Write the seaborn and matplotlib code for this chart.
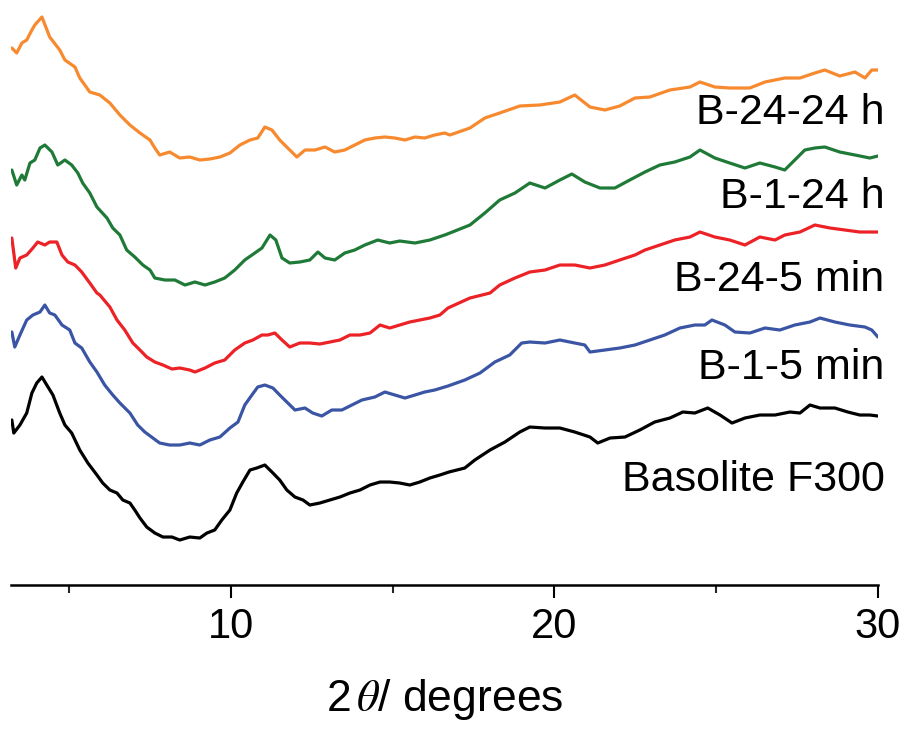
import matplotlib
matplotlib.use("Agg")
import matplotlib.pyplot as plt
import seaborn as sns
import pandas as pd

# ---- data (2theta in degrees, intensity in a.u., stacked for clarity) ----
samples = ["B-24-24 h", "B-1-24 h", "B-24-5 min", "B-1-5 min", "Basolite F300"]
colors = ["#F7892F", "#1F7A38", "#EC2227", "#3B55A5", "#000000"]

x_b2424 = [3.23, 3.38, 3.54, 3.69, 3.85, 3.94, 4.16, 4.40, 4.71, 4.87, 5.18, 5.33, 5.64, 5.95,
           6.26, 6.57, 6.88, 7.19, 7.50, 7.65, 7.80, 8.11, 8.42, 8.73, 9.04, 9.35, 9.66, 9.97,
           10.28, 10.59, 10.83, 11.05, 11.27, 11.51, 11.82, 12.04, 12.29, 12.60, 12.91, 13.21,
           13.52, 13.83, 14.14, 14.45, 14.76, 15.07, 15.38, 15.69, 15.99, 16.30, 16.61, 16.77,
           17.39, 17.85, 18.31, 18.93, 19.55, 20.17, 20.63, 21.10, 21.56, 22.02, 22.49, 22.95,
           23.57, 24.19, 24.50, 24.96, 25.42, 26.04, 26.51, 27.12, 27.59, 28.05, 28.36, 28.82,
           29.29, 29.60, 29.81, 30.00]
y_b2424 = [552, 547, 557, 560, 570, 575, 583, 563, 550, 540, 533, 522, 508, 505,
           497, 485, 475, 467, 460, 452, 445, 448, 442, 443, 440, 441, 443, 447,
           455, 460, 462, 473, 470, 460, 450, 443, 450, 450, 453, 448,
           450, 455, 460, 462, 463, 462, 460, 463, 462, 465, 467, 465,
           472, 482, 487, 494, 495, 498, 505, 493, 490, 494, 502, 503,
           510, 513, 518, 513, 512, 512, 518, 522, 522, 527, 530, 524,
           528, 522, 530, 530]

x_b124 = [3.23, 3.38, 3.54, 3.63, 3.79, 3.94, 4.10, 4.25, 4.47, 4.65, 4.87, 5.08, 5.27, 5.42,
          5.64, 5.86, 6.17, 6.35, 6.57, 6.78, 7.03, 7.28, 7.50, 7.65, 7.96, 8.27, 8.58, 8.89,
          9.20, 9.50, 9.81, 10.12, 10.43, 10.74, 10.96, 11.21, 11.39, 11.58, 11.82, 12.13,
          12.44, 12.69, 12.91, 13.21, 13.52, 13.83, 14.14, 14.54, 14.91, 15.22, 15.69, 16.15,
          16.61, 16.77, 17.39, 17.85, 18.31, 18.78, 19.24, 19.71, 20.17, 20.54, 20.94, 21.41,
          21.87, 22.33, 22.80, 23.26, 23.72, 24.19, 24.50, 24.96, 25.42, 25.89, 26.35, 26.82,
          27.12, 27.43, 27.74, 28.05, 28.36, 28.82, 29.29, 29.75, 30.00]
y_b124 = [430, 415, 425, 420, 437, 440, 452, 455, 448, 435, 440, 435, 427, 417,
          407, 393, 382, 372, 365, 350, 343, 335, 330, 322, 320, 320, 315, 318,
          315, 318, 322, 330, 340, 347, 352, 365, 360, 342, 337, 338,
          340, 348, 342, 340, 347, 350, 355, 360, 357, 359, 357, 360,
          365, 367, 375, 387, 400, 407, 417, 412, 420, 426, 418, 412,
          412, 420, 428, 435, 438, 443, 450, 442, 437, 432, 437, 433,
          430, 440, 450, 452, 453, 448, 445, 442, 444]

x_b245 = [3.23, 3.35, 3.48, 3.69, 3.88, 4.03, 4.25, 4.40, 4.62, 4.78, 4.96, 5.18, 5.39, 5.64,
          5.86, 5.95, 6.26, 6.48, 6.72, 6.97, 7.19, 7.40, 7.65, 7.90, 8.18, 8.42, 8.73, 8.89,
          9.20, 9.50, 9.81, 10.12, 10.43, 10.68, 10.96, 11.14, 11.36, 11.58, 11.82, 12.13,
          12.44, 12.75, 13.06, 13.37, 13.68, 13.99, 14.30, 14.61, 14.91, 15.22, 15.53, 15.84,
          16.15, 16.46, 16.71, 17.39, 18.01, 18.31, 18.78, 19.24, 19.71, 20.17, 20.63, 21.10,
          21.56, 22.02, 22.49, 22.80, 23.26, 23.72, 24.19, 24.50, 24.96, 25.42, 25.89, 26.35,
          26.82, 27.12, 27.59, 28.05, 28.52, 28.98, 29.44, 30.00]
y_b245 = [362, 332, 342, 345, 352, 358, 355, 358, 358, 345, 338, 335, 328, 317,
          307, 305, 293, 280, 270, 257, 250, 243, 238, 235, 231, 232, 230, 228,
          232, 237, 240, 250, 257, 260, 265, 265, 267, 260, 253, 257,
          257, 256, 258, 260, 265, 265, 267, 275, 272, 275, 278, 280,
          282, 285, 292, 302, 307, 315, 322, 328, 330, 335, 335, 332,
          335, 340, 345, 350, 355, 360, 363, 368, 363, 360, 355, 363,
          360, 365, 368, 375, 372, 370, 368, 368]

x_b15 = [3.23, 3.32, 3.48, 3.69, 3.88, 4.10, 4.25, 4.40, 4.56, 4.78, 5.02, 5.18, 5.39, 5.64,
         5.86, 6.10, 6.35, 6.57, 6.88, 7.12, 7.34, 7.59, 7.80, 8.11, 8.42, 8.73, 9.04, 9.35,
         9.66, 9.97, 10.22, 10.43, 10.65, 10.83, 11.05, 11.30, 11.51, 11.73, 11.98, 12.29,
         12.53, 12.81, 13.12, 13.43, 13.74, 14.05, 14.45, 14.76, 15.07, 15.38, 15.69, 15.99,
         16.30, 16.71, 17.23, 17.70, 18.16, 18.62, 18.99, 19.24, 19.71, 20.17, 20.63, 20.94,
         21.10, 21.56, 22.02, 22.49, 22.95, 23.41, 23.88, 24.34, 24.65, 24.87, 25.27, 25.58,
         26.04, 26.51, 26.97, 27.43, 27.90, 28.21, 28.67, 29.13, 29.60, 29.81, 30.00]
y_b15 = [268, 253, 265, 280, 285, 288, 295, 287, 285, 275, 270, 257, 252, 238,
         228, 215, 205, 197, 187, 175, 168, 162, 157, 155, 155, 157, 155, 160,
         163, 172, 178, 195, 205, 213, 215, 212, 205, 198, 190, 192,
         187, 184, 190, 190, 195, 200, 203, 208, 205, 202, 205, 208,
         210, 214, 220, 227, 238, 245, 257, 258, 257, 260, 257, 255,
         248, 250, 252, 255, 260, 265, 272, 275, 275, 280, 275, 268,
         267, 272, 270, 275, 278, 282, 278, 275, 273, 270, 263]

x_f300 = [3.23, 3.29, 3.48, 3.69, 3.85, 4.00, 4.16, 4.31, 4.50, 4.71, 4.87, 5.08, 5.33, 5.58,
          5.86, 6.04, 6.26, 6.48, 6.66, 6.88, 7.03, 7.19, 7.40, 7.65, 7.90, 8.18, 8.42, 8.73,
          9.04, 9.26, 9.50, 9.72, 9.97, 10.18, 10.37, 10.59, 10.80, 11.05, 11.27, 11.51,
          11.73, 11.98, 12.23, 12.44, 12.75, 13.06, 13.37, 13.68, 13.99, 14.30, 14.61, 14.91,
          15.22, 15.53, 15.84, 16.15, 16.46, 16.74, 17.23, 17.54, 18.01, 18.47, 18.93, 19.24,
          19.71, 20.17, 20.63, 21.10, 21.34, 21.72, 22.18, 22.64, 23.10, 23.57, 23.97, 24.34,
          24.74, 25.12, 25.49, 25.89, 26.35, 26.82, 27.28, 27.59, 27.90, 28.21, 28.67, 29.07,
          29.44, 29.75, 30.00]
y_f300 = [180, 167, 175, 187, 207, 217, 223, 215, 205, 187, 175, 167, 150, 137,
          125, 117, 110, 107, 100, 97, 90, 82, 73, 67, 63, 63, 60, 63,
          62, 67, 70, 80, 90, 107, 118, 130, 132, 135, 128, 120,
          110, 103, 100, 95, 97, 100, 103, 107, 110, 115, 118, 118,
          117, 115, 118, 122, 125, 128, 132, 140, 150, 158, 168, 173,
          172, 172, 168, 163, 157, 162, 163, 170, 178, 182, 188, 187,
          192, 185, 177, 182, 185, 185, 188, 187, 195, 192, 192, 188,
          185, 185, 184]

label_y = [487, 403, 320, 232, 120]
xticks_major = [10, 20, 30]
xticks_minor = [5, 15, 25]

series_x = [x_b2424, x_b124, x_b245, x_b15, x_f300]
series_y = [y_b2424, y_b124, y_b245, y_b15, y_f300]

frames = []
for name, xs, ys in zip(samples, series_x, series_y):
    frames.append(pd.DataFrame({"two_theta": xs, "intensity": ys, "sample": name}))
df = pd.concat(frames, ignore_index=True)

# ---- plot ----
sns.set_theme(style="white")
plt.rcParams["font.family"] = ["Liberation Sans", "DejaVu Sans"]
plt.rcParams["mathtext.fontset"] = "stix"

fig = plt.figure(figsize=(9.06, 7.29), dpi=100)
ax = fig.add_axes([0.012, 0.1975, 0.957, 0.8025])

sns.lineplot(data=df, x="two_theta", y="intensity", hue="sample",
             palette=dict(zip(samples, colors)), hue_order=samples,
             estimator=None, sort=False, legend=False, linewidth=2.3, ax=ax)

ax.set_xlim(3.2, 30)
ax.set_ylim(15, 600)
ax.set_yticks([])
ax.set_ylabel("")
ax.set_xticks(xticks_major)
ax.set_xticks(xticks_minor, minor=True)
ax.tick_params(axis="x", which="major", direction="out", length=9.5, width=1.5,
               labelsize=30, pad=6, bottom=True, colors="black")
ax.tick_params(axis="x", which="minor", direction="out", length=6, width=1.5, bottom=True)
for s in ["top", "left", "right"]:
    ax.spines[s].set_visible(False)
ax.spines["bottom"].set_linewidth(1.8)
ax.spines["bottom"].set_color("black")
ax.set_xlabel("2$\\,\\theta$/ degrees", fontsize=32, labelpad=22, color="black")

for name, ly in zip(samples, label_y):
    ax.text(30.2, ly, name, ha="right", va="center", fontsize=31, color="black", clip_on=False)

fig.savefig("out.png", dpi=100)
